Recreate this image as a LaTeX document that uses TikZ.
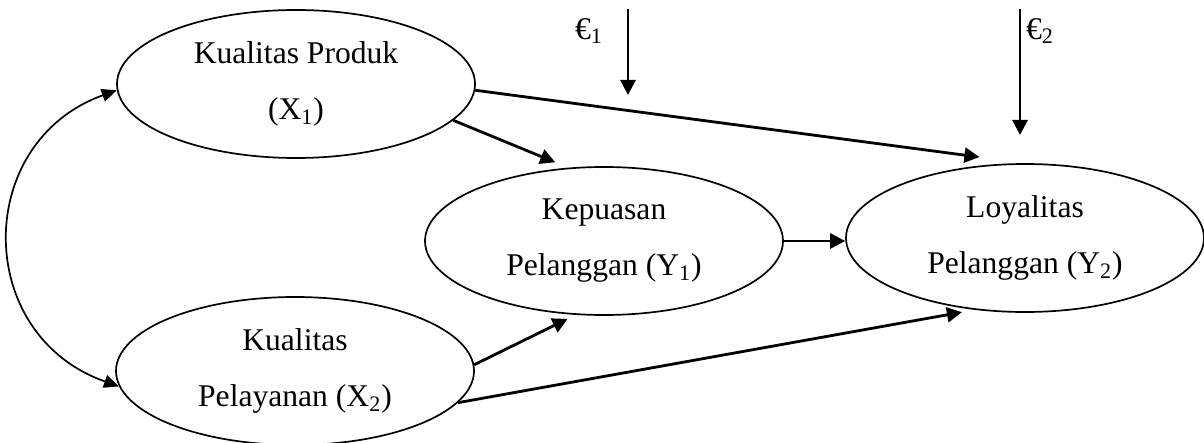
\documentclass[tikz,border=0pt]{standalone}
\usepackage{fontspec}
\setmainfont{Liberation Serif}
\usetikzlibrary{arrows.meta,shapes.geometric}

\begin{document}
\begin{tikzpicture}[x=0.5pt, y=-0.5pt,
	var/.style={draw, ellipse, minimum width=179pt, minimum height=74pt, inner sep=0pt, align=center, line width=0.85pt, font=\fontsize{15.8}{28}\selectfont},
	effect/.style={-{Triangle[length=7.5pt,width=7.5pt]}, line width=1.4pt},
	err/.style={font=\fontsize{15.8}{19}\selectfont}]
				\useasboundingbox[fill=white] (0,0) rectangle (1204,443);
				
				\node[var] (x1) at (296,84) {Kualitas Produk\\(X\textsubscript{1})};
				\node[var] (x2) at (295,371) {Kualitas\\Pelayanan (X\textsubscript{2})};
				\node[var] (y1) at (604,241) {Kepuasan\\Pelanggan (Y\textsubscript{1})};
				\node[var] (y2) at (1025,238) {Loyalitas\\Pelanggan (Y\textsubscript{2})};
				
				\node[err] (e1) at (589,31) {€\textsubscript{1}};
				\node[err] (e2) at (1040,31) {€\textsubscript{2}};
				\coordinate (e1top) at (628,9);
				\coordinate (e1tip) at (628,95);
				\coordinate (e2top) at (1020,9);
				\coordinate (e2tip) at (1020,135);
				
				\draw[effect, shorten >=23pt] (x1.-2) -- (y2.north);
				\draw[effect, shorten >=7pt] (x1.-13) -- (y1.116);
				\draw[effect, shorten >=4.5pt] (x2.2) -- (y1.249);
				\draw[effect, shorten >=6.5pt] (x2.-11) -- (y2.235);
				\draw[effect] (y1.east) -- (y1.east -| y2.west);
				\draw[effect] (e1top) -- (e1tip);
				\draw[effect] (e2top) -- (e2tip);
				
				\draw[{Triangle[length=7.5pt,width=6.5pt]}-{Triangle[length=7.5pt,width=6.5pt]}, line width=0.85pt] (x2.185) .. controls (-27,335) and (-27,142) .. (x1.182);
			\end{tikzpicture}
\end{document}
